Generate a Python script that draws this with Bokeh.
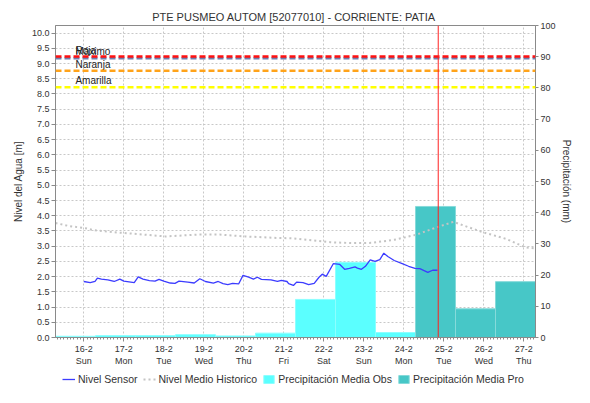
from bokeh.plotting import figure
from bokeh.layouts import column
from bokeh.models import (Range1d, LinearAxis, FixedTicker, Span, Legend, LegendItem,
                          PrintfTickFormatter)
from bokeh.core.properties import value
from bokeh.embed import file_html
from bokeh.resources import INLINE

# ---------------- data ----------------
TITLE = "PTE PUSMEO AUTOM  [52077010] - CORRIENTE: PATIA"

# x in days since 16-2 00:00
x_start, x_end = -0.708, 11.292
day_ticks = [0, 1, 2, 3, 4, 5, 6, 7, 8, 9, 10, 11]
day_labels = ["16-2\nSun", "17-2\nMon", "18-2\nTue", "19-2\nWed", "20-2\nThu", "21-2\nFri",
              "22-2\nSat", "23-2\nSun", "24-2\nMon", "25-2\nTue", "26-2\nWed", "27-2\nThu"]

level_ticks = [0.0, 0.5, 1.0, 1.5, 2.0, 2.5, 3.0, 3.5, 4.0, 4.5, 5.0, 5.5, 6.0, 6.5,
               7.0, 7.5, 8.0, 8.5, 9.0, 9.5, 10.0]
precip_ticks = [0, 10, 20, 30, 40, 50, 60, 70, 80, 90, 100]

sensor_t = [0.00, 0.16, 0.28, 0.34, 0.44, 0.60, 0.76, 0.90, 1.00, 1.26, 1.36, 1.48, 1.64,
            1.78, 1.88, 2.00, 2.16, 2.28, 2.38, 2.60, 2.76, 2.90, 3.04, 3.24, 3.36, 3.48,
            3.60, 3.72, 3.87, 3.98, 4.12, 4.24, 4.34, 4.44, 4.68, 4.84, 4.94, 5.08, 5.12,
            5.24, 5.32, 5.48, 5.62, 5.76, 5.88, 5.96, 6.06, 6.24, 6.40, 6.52, 6.64, 6.78,
            6.84, 6.94, 7.04, 7.16, 7.28, 7.40, 7.50, 7.60, 7.76, 7.96, 8.12, 8.28, 8.40,
            8.60, 8.72, 8.84]
sensor_level = [1.84, 1.80, 1.84, 1.95, 1.92, 1.89, 1.84, 1.92, 1.85, 1.80, 1.99, 1.92, 1.87,
                1.85, 1.91, 1.85, 1.79, 1.78, 1.85, 1.82, 1.79, 1.93, 1.84, 1.79, 1.84, 1.77,
                1.74, 1.78, 1.76, 2.04, 1.98, 1.92, 1.98, 1.91, 1.89, 1.84, 1.88, 1.84, 1.77,
                1.71, 1.82, 1.80, 1.74, 1.78, 1.98, 2.08, 2.01, 2.43, 2.40, 2.24, 2.27, 2.32,
                2.28, 2.24, 2.34, 2.55, 2.50, 2.56, 2.77, 2.66, 2.53, 2.43, 2.34, 2.27, 2.26,
                2.14, 2.21, 2.21]

hist_t = [-0.708, -0.36, 0.04, 0.28, 0.84, 1.32, 2.04, 2.84, 3.40, 4.04, 4.84, 5.22, 5.60,
          6.16, 6.72, 7.20, 7.76, 8.32, 8.80, 9.24, 9.60, 10.00, 10.56, 11.04, 11.292]
hist_level = [3.76, 3.66, 3.59, 3.52, 3.45, 3.40, 3.32, 3.38, 3.38, 3.32, 3.27, 3.26, 3.21,
              3.13, 3.10, 3.11, 3.21, 3.38, 3.61, 3.80, 3.63, 3.45, 3.24, 2.96, 2.93]

obs_start = [-0.708, 0.292, 1.292, 2.292, 3.292, 4.292, 5.292, 6.292, 7.292]
obs_mm = [0.4, 0.6, 0.6, 0.9, 0.5, 1.4, 12.2, 24.1, 1.6]
pro_start = [8.292, 9.292, 10.292]
pro_mm = [42.0, 9.2, 17.9]
bar_len = 1.0

threshold_names = ["Amarilla", "Naranja", "Máximo", "Roja"]
threshold_levels = [8.22, 8.76, 9.17, 9.23]
label_day = -0.21
now_t = 8.86

legend_labels = ["Nivel Sensor", "Nivel Medio Historico", "Precipitación Media Obs",
                 "Precipitación Media Pro"]

# ---------------- style ----------------
FONT = "Liberation Sans"
threshold_colors = ["#ffff00", "#ffa31a", "#6f7fae", "#ff1010"]
SENSOR_C, HIST_C, OBS_C, PRO_C = "#3c3cff", "#c4c4c4", "#5bffff", "#47c7c7"


def draw_series(fig, precip_range=None):
    kw = {"y_range_name": precip_range} if precip_range else {}
    r_obs = fig.quad(left=obs_start, right=[s + bar_len for s in obs_start], bottom=0,
                     top=obs_mm, fill_color=OBS_C, line_color="#8cffff", line_width=1, **kw)
    r_pro = fig.quad(left=pro_start, right=[s + bar_len for s in pro_start], bottom=0,
                     top=pro_mm, fill_color=PRO_C, line_color="#86dada", line_width=1, **kw)
    r_hist = fig.line(hist_t, hist_level, line_color=HIST_C, line_width=2, line_dash="2 3")
    r_sensor = fig.line(sensor_t, sensor_level, line_color=SENSOR_C, line_width=1.3)
    return [r_sensor, r_hist, r_obs, r_pro]


p = figure(width=574, height=370, x_range=Range1d(x_start, x_end), y_range=Range1d(0, 10.25),
           output_backend="svg", toolbar_location=None,
           min_border_left=55, min_border_right=32, min_border_top=25, min_border_bottom=33)
p.extra_y_ranges = {"precip": Range1d(0, 100)}

p.title.text = TITLE
p.title.align = "center"
p.title.text_font = FONT
p.title.text_font_size = "11px"
p.title.text_font_style = "normal"
p.title.text_color = "#333333"
p.title.standoff = 6

p.outline_line_color = "#8a8a8a"
p.background_fill_color = "white"

# axes
xa = p.xaxis[0]
xa.ticker = FixedTicker(ticks=day_ticks, minor_ticks=[k / 12 for k in range(-8, 136)])
xa.major_label_overrides = dict(zip(day_ticks, day_labels))
ya = p.yaxis[0]
ya.ticker = FixedTicker(ticks=level_ticks)
ya.formatter = PrintfTickFormatter(format="%.1f")
ya.axis_label = "Nivel del Agua [m]"

ra = LinearAxis(y_range_name="precip", ticker=FixedTicker(ticks=precip_ticks),
                axis_label="Precipitación (mm)")
p.add_layout(ra, "right")

for ax in (xa, ya, ra):
    ax.axis_line_color = "#8a8a8a"
    ax.major_tick_line_color = "#8a8a8a"
    ax.minor_tick_line_color = "#8a8a8a"
    ax.major_tick_out = 4
    ax.major_tick_in = 0
    ax.minor_tick_in = 0
    ax.major_label_text_font = FONT
    ax.major_label_text_font_size = "9px"
    ax.major_label_text_color = "#333333"
    ax.major_label_standoff = 2
    ax.axis_label_text_font = FONT
    ax.axis_label_text_font_size = "10px"
    ax.axis_label_text_font_style = "normal"
    ax.axis_label_text_color = "#333333"
    ax.axis_label_standoff = 5
xa.minor_tick_out = 2
ya.minor_tick_out = 0
ra.minor_tick_out = 0
ra.major_tick_out = 3
ra.major_label_standoff = 2
ra.axis_label_standoff = 2

p.grid.grid_line_color = "#c8c8c8"
p.grid.grid_line_dash = "2 2"
p.grid.grid_line_width = 1

draw_series(p, "precip")

# thresholds
for lev, col in zip(threshold_levels, threshold_colors):
    p.add_layout(Span(location=lev, dimension="width", line_color=col, line_width=2.5,
                      line_dash="6 3"))
p.text(x=[label_day] * len(threshold_levels), y=threshold_levels, text=threshold_names,
       text_font=value(FONT), text_font_size="10px", text_color="#222222",
       text_baseline="bottom", y_offset=-1)

p.add_layout(Span(location=now_t, dimension="height", line_color="#ff2020", line_width=1))

# ---------------- legend strip (same series, drawn out of view) ----------------
lg = figure(width=574, height=17, output_backend="svg", toolbar_location=None,
            x_axis_location=None, y_axis_location=None, min_border=0,
            x_range=Range1d(x_start, x_end), y_range=Range1d(1000, 1001))
lg.outline_line_color = None
lg.grid.visible = False
lg_renderers = draw_series(lg)
legend = Legend(items=[LegendItem(label=t, renderers=[r])
                       for t, r in zip(legend_labels, lg_renderers)],
                orientation="horizontal", location=(7, 2),
                background_fill_alpha=0, border_line_alpha=0,
                label_text_font=FONT, label_text_font_size="10.5px", label_text_color="#333333",
                glyph_width=13, glyph_height=10, label_standoff=3, spacing=5,
                padding=0, margin=0, label_height=10)
lg.add_layout(legend)

layout = column(p, lg, spacing=0)
open("out.html", "w", encoding="utf-8").write(file_html(layout, INLINE))
